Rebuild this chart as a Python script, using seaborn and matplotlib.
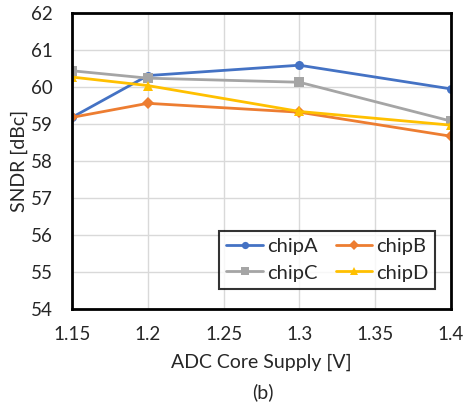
import numpy as np
import pandas as pd
import matplotlib
matplotlib.use("Agg")
import matplotlib.pyplot as plt
import seaborn as sns

# supply voltages and SNDR per chip
supply = [1.15, 1.2, 1.3, 1.4]
chipA = [59.18, 60.31, 60.59, 59.95]
chipB = [59.18, 59.56, 59.32, 58.67]
chipC = [60.44, 60.24, 60.13, 59.08]
chipD = [60.27, 60.04, 59.34, 58.97]

chips = ["chipA", "chipB", "chipC", "chipD"]
colors = ["#4472C4", "#ED7D31", "#A5A5A5", "#FFC000"]
markers = ["o", "D", "s", "^"]

# long form table for seaborn
data = pd.DataFrame({
    "supply": supply * 4,
    "sndr": chipA + chipB + chipC + chipD,
    "chip": np.repeat(chips, len(supply)),
})

sns.set_style("white")
plt.rcParams["font.family"] = ["Lato", "DejaVu Sans"]

fig = plt.figure(figsize=(4.63, 4.08), dpi=100)
ax = fig.add_axes([0.1555, 0.2426, 0.8185, 0.7254])

sns.lineplot(data=data, x="supply", y="sndr", hue="chip", style="chip",
             palette=dict(zip(chips, colors)),
             markers=dict(zip(chips, markers)), dashes=False,
             linewidth=2, markersize=6.5, markeredgewidth=0, ax=ax,
             legend=True)

ax.set_xlim(1.15, 1.4)
ax.set_ylim(54, 62)
ax.set_xticks([1.15, 1.2, 1.25, 1.3, 1.35, 1.4])
ax.set_xticklabels(["1.15", "1.2", "1.25", "1.3", "1.35", "1.4"])
ax.set_yticks(range(54, 63))
ax.tick_params(labelsize=13.5, length=0)
ax.tick_params(axis="x", pad=12)
ax.tick_params(axis="y", pad=14)
ax.grid(True, color="#D9D9D9", linewidth=1)
for s in ax.spines.values():
    s.set_color("black")
    s.set_linewidth(2)

ax.set_xlabel("ADC Core Supply [V]", fontsize=14, labelpad=8)
ax.set_ylabel("SNDR [dBc]", fontsize=14, labelpad=2)
fig.text(0.568, 0.025, "(b)", fontsize=14, ha="center")

# row-wise legend order: A B / C D
handles, labels = ax.get_legend_handles_labels()
order = [0, 2, 1, 3]
leg = ax.legend([handles[i] for i in order], [labels[i] for i in order],
                ncol=2, loc="lower right", bbox_to_anchor=(0.985, 0.035),
                fontsize=14.5, frameon=True, fancybox=False, edgecolor="black",
                handlelength=1.8, columnspacing=0.9, handletextpad=0.2,
                borderpad=0.35, labelspacing=0.45, markerscale=0.8)
leg.get_frame().set_linewidth(1.5)

fig.savefig("out.png", dpi=100)
